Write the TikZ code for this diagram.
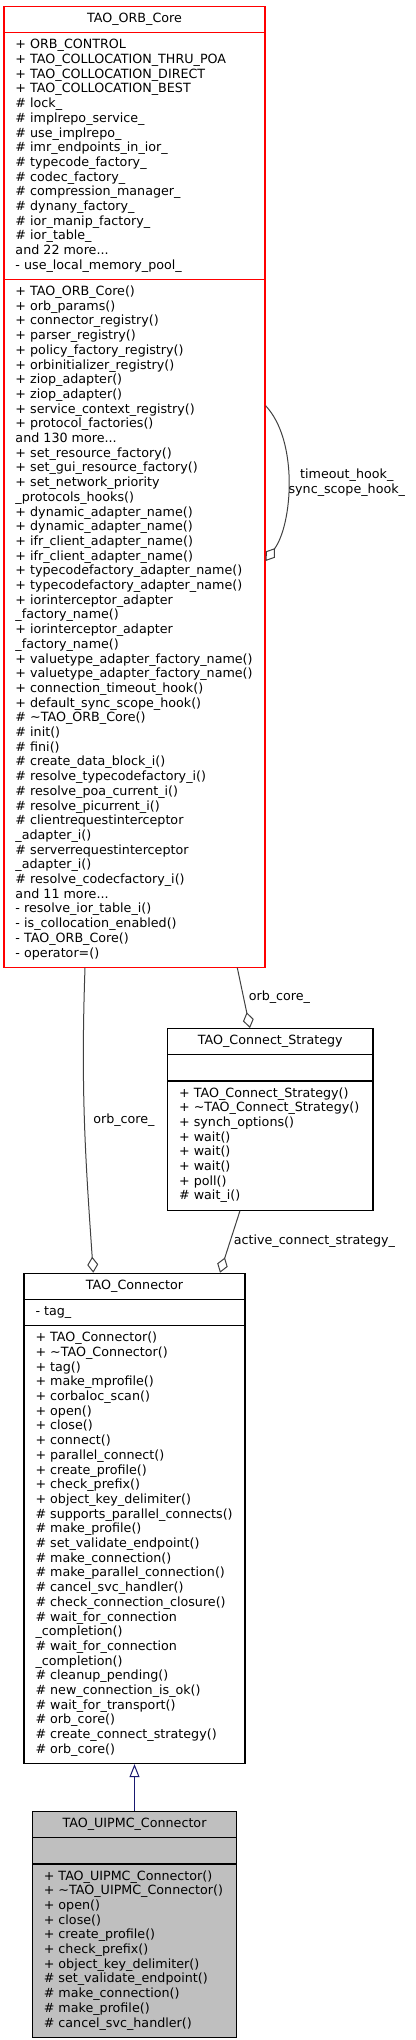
\documentclass[tikz,border=0pt]{standalone}
\usepackage{fontspec}
\setmainfont{DejaVu Sans}
\usepackage{tikz}
\usetikzlibrary{shapes.multipart,arrows.meta}
\definecolor{edgegray}{HTML}{404040}
\definecolor{navyline}{HTML}{191970}
\definecolor{derivedgray}{HTML}{BFBFBF}

\begin{document}
\begin{tikzpicture}[x=1pt, y=-1pt,
		class_style/.style={rectangle split, rectangle split parts=3,
			rectangle split part align={center,left,left},
			draw=black, line width=1.2pt, fill=white, anchor=north, align=left,
			inner xsep=11.5pt, inner ysep=5.15pt, font=\fontsize{12.7}{14.7}\selectfont},
		main_style/.style={class_style, draw=red},
		derived_style/.style={class_style, fill=derivedgray},
		agg_style/.style={draw=edgegray, line width=1pt, -{Diamond[open,length=16pt,width=11pt]}},
		inh_style/.style={draw=navyline, line width=1pt, -{Triangle[open,length=13pt,width=10pt]}},
		label_style/.style={anchor=west, inner sep=0pt, font=\fontsize{12.7}{14.7}\selectfont}]

		\useasboundingbox (0,0) rectangle (415,2040);

		\node[main_style, minimum width=261pt] (core) at (134.5,6) {\strut TAO\_ORB\_Core
			\nodepart{two}\strut + ORB\_CONTROL\\
			+ TAO\_COLLOCATION\_THRU\_POA\\
			+ TAO\_COLLOCATION\_DIRECT\\
			+ TAO\_COLLOCATION\_BEST\\
			\# lock\_\\
			\# implrepo\_service\_\\
			\# use\_implrepo\_\\
			\# imr\_endpoints\_in\_ior\_\\
			\# typecode\_factory\_\\
			\# codec\_factory\_\\
			\# compression\_manager\_\\
			\# dynany\_factory\_\\
			\# ior\_manip\_factory\_\\
			\# ior\_table\_\\
			and 22 more...\\
			- use\_local\_memory\_pool\_\strut
			\nodepart{three}\strut + TAO\_ORB\_Core()\\
			+ orb\_params()\\
			+ connector\_registry()\\
			+ parser\_registry()\\
			+ policy\_factory\_registry()\\
			+ orbinitializer\_registry()\\
			+ ziop\_adapter()\\
			+ ziop\_adapter()\\
			+ service\_context\_registry()\\
			+ protocol\_factories()\\
			and 130 more...\\
			+ set\_resource\_factory()\\
			+ set\_gui\_resource\_factory()\\
			+ set\_network\_priority\\
			\_protocols\_hooks()\\
			+ dynamic\_adapter\_name()\\
			+ dynamic\_adapter\_name()\\
			+ ifr\_client\_adapter\_name()\\
			+ ifr\_client\_adapter\_name()\\
			+ typecodefactory\_adapter\_name()\\
			+ typecodefactory\_adapter\_name()\\
			+ iorinterceptor\_adapter\\
			\_factory\_name()\\
			+ iorinterceptor\_adapter\\
			\_factory\_name()\\
			+ valuetype\_adapter\_factory\_name()\\
			+ valuetype\_adapter\_factory\_name()\\
			+ connection\_timeout\_hook()\\
			+ default\_sync\_scope\_hook()\\
			\# \textasciitilde TAO\_ORB\_Core()\\
			\# init()\\
			\# fini()\\
			\# create\_data\_block\_i()\\
			\# resolve\_typecodefactory\_i()\\
			\# resolve\_poa\_current\_i()\\
			\# resolve\_picurrent\_i()\\
			\# clientrequestinterceptor\\
			\_adapter\_i()\\
			\# serverrequestinterceptor\\
			\_adapter\_i()\\
			\# resolve\_codecfactory\_i()\\
			and 11 more...\\
			- resolve\_ior\_table\_i()\\
			- is\_collocation\_enabled()\\
			- TAO\_ORB\_Core()\\
			- operator=()\strut};

		\node[class_style, minimum width=205.3pt] (strategy) at (270.3,1028) {\strut TAO\_Connect\_Strategy
			\nodepart{two}\strut
			\nodepart{three}\strut + TAO\_Connect\_Strategy()\\
			+ \textasciitilde TAO\_Connect\_Strategy()\\
			+ synch\_options()\\
			+ wait()\\
			+ wait()\\
			+ wait()\\
			+ poll()\\
			\# wait\_i()\strut};

		\node[class_style, minimum width=221pt] (connector) at (134.5,1272.7) {\strut TAO\_Connector
			\nodepart{two}\strut - tag\_\strut
			\nodepart{three}\strut + TAO\_Connector()\\
			+ \textasciitilde TAO\_Connector()\\
			+ tag()\\
			+ make\_mprofile()\\
			+ corbaloc\_scan()\\
			+ open()\\
			+ close()\\
			+ connect()\\
			+ parallel\_connect()\\
			+ create\_profile()\\
			+ check\_prefix()\\
			+ object\_key\_delimiter()\\
			\# supports\_parallel\_connects()\\
			\# make\_profile()\\
			\# set\_validate\_endpoint()\\
			\# make\_connection()\\
			\# make\_parallel\_connection()\\
			\# cancel\_svc\_handler()\\
			\# check\_connection\_closure()\\
			\# wait\_for\_connection\\
			\_completion()\\
			\# wait\_for\_connection\\
			\_completion()\\
			\# cleanup\_pending()\\
			\# new\_connection\_is\_ok()\\
			\# wait\_for\_transport()\\
			\# orb\_core()\\
			\# create\_connect\_strategy()\\
			\# orb\_core()\strut};

		\node[derived_style, minimum width=204.4pt] (uipmc) at (134.5,1811) {\strut TAO\_UIPMC\_Connector
			\nodepart{two}\strut
			\nodepart{three}\strut + TAO\_UIPMC\_Connector()\\
			+ \textasciitilde TAO\_UIPMC\_Connector()\\
			+ open()\\
			+ close()\\
			+ create\_profile()\\
			+ check\_prefix()\\
			+ object\_key\_delimiter()\\
			\# set\_validate\_endpoint()\\
			\# make\_connection()\\
			\# make\_profile()\\
			\# cancel\_svc\_handler()\strut};

		\path ([xshift=-49.5pt]core.south) edge[agg_style, out=-92, in=94] node[label_style, pos=0.5, xshift=8.3pt]{orb\_core\_} ([xshift=-41.2pt]connector.north);
		\path ([xshift=102.8pt]core.south) edge[agg_style] node[label_style, pos=0.485, xshift=4.8pt]{orb\_core\_} ([xshift=-20.3pt]strategy.north);
		\path ([xshift=-30.3pt]strategy.south) edge[agg_style] node[label_style, pos=0.495, xshift=3.2pt]{active\_connect\_strategy\_} ([xshift=85.5pt]connector.north);
		\draw[agg_style] ([yshift=-399.7pt]core.north east) .. controls +(33,35) and +(27,-37) .. ([yshift=-555pt]core.north east) node[label_style, pos=0.5, align=center]{timeout\_hook\_\\sync\_scope\_hook\_};
		\path (uipmc.north) edge[inh_style] (connector.south);
		\end{tikzpicture}
\end{document}
